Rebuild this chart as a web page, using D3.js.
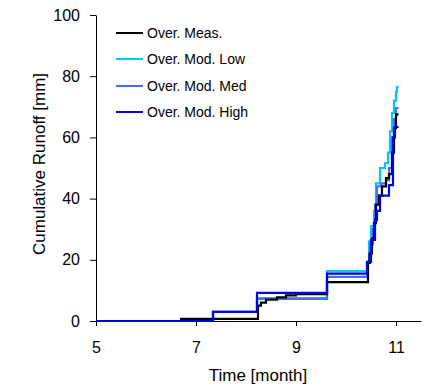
<!DOCTYPE html>
<html>
<head>
<meta charset="utf-8">
<script src="https://cdn.jsdelivr.net/npm/d3@7"></script>
<style>
  body { margin: 0; background: #fff; }
  text { font-family: "Liberation Sans", Arial, sans-serif; fill: #000; }
  .axis path, .axis line { stroke: #000; stroke-width: 1; }
</style>
</head>
<body>
<div class="chart"></div>
<script>
var svgWidth = 425;
var svgHeight = 388;

// data (time in months, cumulative runoff in mm)
var seriesNames = ["Over. Meas.", "Over. Mod. Low", "Over. Mod. Med", "Over. Mod. High"];
var seriesColors = ["#000000", "#00c8ff", "#4070ff", "#0000f0"];

var measTime = [5, 6.7, 8.24, 8.3, 8.4, 8.62, 8.8, 9.0, 9.62, 10.44, 10.47, 10.52, 10.56, 10.6, 10.66, 10.72, 10.8, 10.86, 10.92, 10.96, 11.0, 11.05];
var measVal  = [0, 0.7, 5.0, 6.0, 7.0, 7.7, 8.4, 8.8, 12.7, 19, 22, 27, 32, 38, 41, 44, 46.7, 48, 55, 63, 67.5, 67.5];

var lowTime = [5, 7.34, 8.22, 9.62, 10.42, 10.46, 10.5, 10.56, 10.6, 10.68, 10.78, 10.84, 10.88, 10.92, 10.96, 11.0, 11.02, 11.05];
var lowVal  = [0, 3, 7.5, 16.3, 19, 26, 31, 36, 45, 50, 51.6, 55, 62, 68, 72, 75, 76.5, 76.5];

var medTime = [5, 7.34, 8.22, 9.62, 10.42, 10.48, 10.54, 10.58, 10.62, 10.7, 10.8, 10.86, 10.92, 10.96, 11.0, 11.05];
var medVal  = [0, 3, 7.2, 14.4, 19, 25, 30, 38, 44, 45, 46, 50, 60, 66, 69.6, 69.6];

var highTime = [5, 7.34, 8.22, 9.62, 10.42, 10.5, 10.58, 10.62, 10.68, 10.86, 10.94, 10.98, 11.05];
var highVal  = [0, 3, 9.2, 15.5, 19.3, 26.5, 33, 36, 41, 44.4, 60, 63.4, 63.4];

var xTicks = [5, 7, 9, 11];
var yTicks = [0, 20, 40, 60, 80, 100];

var allTimes = [measTime, lowTime, medTime, highTime];
var allVals = [measVal, lowVal, medVal, highVal];

var svg = d3.select(".chart")
  .append("svg")
  .attr("width", svgWidth)
  .attr("height", svgHeight);

var x = d3.scaleLinear().domain([5, 11.5]).range([96, 421]);
var y = d3.scaleLinear().domain([0, 100]).range([321, 15]);

// axes
var xAxis = d3.axisBottom(x).tickValues(xTicks).tickFormat(d3.format("d"))
  .tickSize(5).tickSizeOuter(0).tickPadding(16);
var yAxis = d3.axisLeft(y).tickValues(yTicks).tickFormat(d3.format("d"))
  .tickSize(6).tickSizeOuter(0).tickPadding(10);

svg.append("g")
  .attr("class", "axis")
  .attr("transform", "translate(0," + y(0) + ")")
  .call(xAxis)
  .selectAll("text").style("font-size", "16px");

svg.append("g")
  .attr("class", "axis")
  .attr("transform", "translate(" + x(5) + ",0)")
  .call(yAxis)
  .selectAll("text").style("font-size", "16px");

// lines, drawn so the high-model blue sits on top
var line = d3.line()
  .x(function(d) { return x(d[0]); })
  .y(function(d) { return y(d[1]); })
  .curve(d3.curveStepAfter);

[1, 2, 0, 3].forEach(function(i) {
  var pts = allTimes[i].map(function(t, j) { return [t, allVals[i][j]]; });
  svg.append("path")
    .datum(pts)
    .attr("fill", "none")
    .attr("stroke", seriesColors[i])
    .attr("stroke-width", 2.2)
    .attr("d", line);
});

// legend
var legendY = [33, 59, 86, 112];
seriesNames.forEach(function(name, i) {
  svg.append("line")
    .attr("x1", 116).attr("x2", 143)
    .attr("y1", legendY[i]).attr("y2", legendY[i])
    .attr("stroke", seriesColors[i])
    .attr("stroke-width", 2);
  svg.append("text")
    .attr("x", 147)
    .attr("y", legendY[i])
    .attr("dy", "0.35em")
    .style("font-size", "14px")
    .text(name);
});

// axis titles
svg.append("text")
  .attr("transform", "translate(45,164) rotate(-90)")
  .attr("text-anchor", "middle")
  .style("font-size", "17px")
  .text("Cumulative Runoff [mm]");

svg.append("text")
  .attr("x", 258)
  .attr("y", 381)
  .attr("text-anchor", "middle")
  .style("font-size", "17px")
  .text("Time [month]");
</script>
</body>
</html>
